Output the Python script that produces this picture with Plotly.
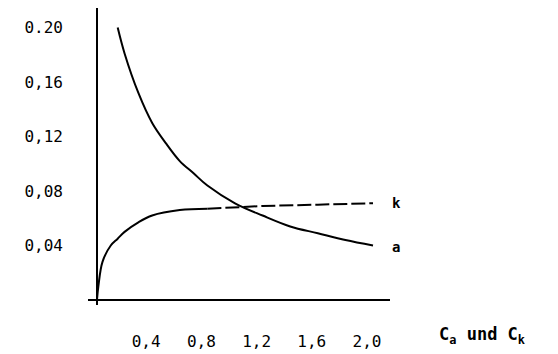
import plotly.graph_objects as go

# Curve a (decreasing)
a_x = [0.15, 0.2, 0.3, 0.4, 0.5, 0.6, 0.7, 0.8, 1.0, 1.2, 1.4, 1.6, 1.8, 2.0]
a_y = [0.200, 0.181, 0.152, 0.130, 0.115, 0.102, 0.093, 0.084, 0.071, 0.062, 0.054, 0.049, 0.044, 0.040]

# Curve k (rising, saturating)
k_x = [0.0, 0.01, 0.04, 0.1, 0.15, 0.2, 0.3, 0.4, 0.6, 0.8, 1.0, 1.2, 1.6, 2.0]
k_y = [0.0, 0.010, 0.028, 0.040, 0.045, 0.050, 0.057, 0.062, 0.066, 0.067, 0.068, 0.069, 0.070, 0.071]

x_ticks = [0.4, 0.8, 1.2, 1.6, 2.0]
x_tick_labels = ["0,4", "0,8", "1,2", "1,6", "2,0"]
y_ticks = [0.04, 0.08, 0.12, 0.16, 0.20]
y_tick_labels = ["0,04", "0,08", "0,12", "0,16", "0.20"]

split = 9  # k drawn solid up to x=0.8, dashed afterwards

fig = go.Figure()
fig.add_trace(go.Scatter(x=a_x, y=a_y, mode="lines", line=dict(color="black", width=2, shape="spline", smoothing=1.0),
                         showlegend=False, hoverinfo="skip"))
fig.add_trace(go.Scatter(x=k_x[:split + 1], y=k_y[:split + 1], mode="lines",
                         line=dict(color="black", width=2, shape="spline", smoothing=1.0),
                         showlegend=False, hoverinfo="skip"))
fig.add_trace(go.Scatter(x=k_x[split:], y=k_y[split:], mode="lines",
                         line=dict(color="black", width=2, dash="14px,4px"), showlegend=False, hoverinfo="skip"))

mono = "DejaVu Sans Mono"
fig.update_layout(
    width=558, height=354,
    margin=dict(l=80, r=176, t=0, b=57, pad=0, autoexpand=False),
    paper_bgcolor="white", plot_bgcolor="white",
    xaxis=dict(range=[-0.065, 2.123], showgrid=False, zeroline=True, zerolinecolor="black", zerolinewidth=2,
               tickvals=x_ticks, ticktext=x_tick_labels, ticks="", showline=False, automargin=False,
               tickfont=dict(family=mono, size=16, color="black"),
               ticklabelstandoff=25, ticklabelshift=-6),
    yaxis=dict(range=[-0.0037, 0.2144], showgrid=False, zeroline=True, zerolinecolor="black", zerolinewidth=2,
               tickvals=y_ticks, ticktext=y_tick_labels, ticks="", showline=False, automargin=False,
               tickfont=dict(family=mono, size=16, color="black"),
               ticklabelstandoff=24),
    annotations=[
        dict(x=2.123, y=0.071, xref="x", yref="y", text="<b>k</b>", showarrow=False,
             xanchor="left", xshift=0, font=dict(family=mono, size=14, color="black")),
        dict(x=2.123, y=0.039, xref="x", yref="y", text="<b>a</b>", showarrow=False,
             xanchor="left", xshift=0, font=dict(family=mono, size=14, color="black")),
        dict(x=1.0, y=0, xref="paper", yref="paper", text="<b>C<sub>a</sub> und C<sub>k</sub></b>",
             showarrow=False, xanchor="left", yanchor="top", xshift=47, yshift=-17,
             font=dict(family=mono, size=17, color="black")),
    ],
)

fig.write_html("out.html")
